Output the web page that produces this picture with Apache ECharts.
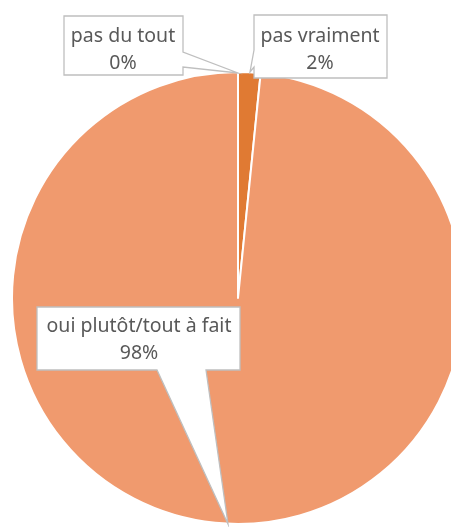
<!DOCTYPE html>
<html lang="fr">
<head>
    <meta charset="UTF-8">
    <title>pie</title>
    <script src="https://cdn.jsdelivr.net/npm/echarts@6/dist/echarts.min.js"></script>
    <style>
        * { margin: 0; padding: 0 }
        html, body { width: 100%; height: 100%; background: #fff }
        #main { width: 451px; height: 527px }
    </style>
</head>
<body>
    <div id="main"></div>
    <script type="text/javascript">
        // categories and shares (%)
        var categories = ['pas du tout', 'pas vraiment', 'oui plutôt/tout à fait'];
        var values = [0, 1.6, 98.4];
        var colors = ['#E07A33', '#E07A33', '#F09A6E'];

        // label text centers
        var labelPos = [[123, 50], [320, 50], [139, 340]];
        // callout outlines (box + pointer towards the slice)
        var callouts = [
            [[64, 16], [183, 16], [183, 52], [238, 73], [183, 67], [183, 75], [64, 75]],
            [[254, 15], [387, 15], [387, 78], [254, 78], [254, 67], [250, 72], [254, 50]],
            [[37, 307], [240, 307], [240, 370], [206, 370], [228, 524], [157, 370], [37, 370]]
        ];

        var dataList = categories.map(function (c, i) {
            return { name: c, value: values[i], itemStyle: { color: colors[i] } };
        });

        var myChart = echarts.init(document.getElementById('main'));
        var option = {
            animation: false,
            graphic: callouts.map(function (p) {
                return {
                    type: 'polygon',
                    z: 3,
                    shape: { points: p },
                    style: { fill: '#fff', stroke: '#BFBFBF', lineWidth: 1.3 }
                };
            }),
            series: [{
                type: 'pie',
                z: 1,
                center: [238, 298],
                radius: 226,
                startAngle: 90,
                clockwise: true,
                label: { show: false },
                labelLine: { show: false },
                itemStyle: { borderColor: '#fff', borderWidth: 2 },
                data: dataList
            }, {
                // same pie, invisible, only for the labels above the callouts
                type: 'pie',
                z: 5,
                silent: true,
                center: [238, 298],
                radius: 226,
                startAngle: 90,
                clockwise: true,
                itemStyle: { color: 'transparent', borderWidth: 0 },
                labelLine: { show: false },
                label: {
                    show: true,
                    formatter: function (p) {
                        return p.name + '\n' + Math.round(p.value) + '%';
                    },
                    fontFamily: 'Noto Sans',
                    fontSize: 19.5,
                    lineHeight: 27,
                    color: '#595959',
                    align: 'center',
                    width: 220,
                    overflow: 'none'
                },
                labelLayout: function (params) {
                    var p = labelPos[params.dataIndex];
                    return {
                        x: p[0],
                        y: p[1],
                        align: 'center',
                        verticalAlign: 'middle'
                    };
                },
                data: dataList.map(function (d) {
                    return { name: d.name, value: d.value };
                })
            }]
        };
        myChart.setOption(option);
    </script>
</body>
</html>
